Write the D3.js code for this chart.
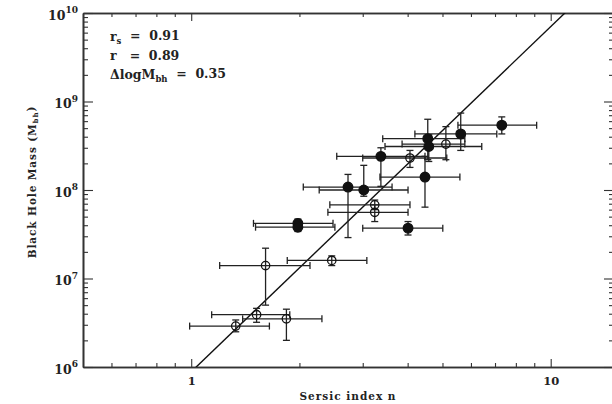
<!DOCTYPE html>
<html>
<head>
<meta charset="utf-8">
<script src="https://cdn.jsdelivr.net/npm/d3@7"></script>
<style>
  body { margin: 0; background: #fff; }
  svg { display: block; }
  .lbl { font-family: "DejaVu Serif", serif; font-weight: bold; fill: #222; }
</style>
</head>
<body>
<script>
// Sersic index with x error range
const sersicN = [7.31, 5.62, 4.55, 4.58, 3.37, 4.47, 2.73, 3.02, 4.01, 1.98, 1.98, 5.11, 4.06, 3.24, 3.24, 2.46, 1.61, 1.52, 1.33, 1.84];
const nLow    = [5.52, 4.19, 3.41, 3.46, 2.54, 3.35, 2.05, 2.27, 3.00, 1.49, 1.51, 3.86, 3.00, 2.43, 2.40, 1.85, 1.20, 1.14, 0.99, 1.39];
const nHigh   = [9.14, 7.08, 5.77, 6.43, 4.47, 5.59, 3.62, 4.01, 5.01, 2.48, 2.51, 5.77, 5.14, 4.06, 4.01, 3.08, 2.14, 1.88, 1.65, 2.31];
// black hole mass (Msun) with y error range
const massBH   = [5.4e8, 4.3e8, 3.8e8, 3.1e8, 2.4e8, 1.4e8, 1.08e8, 1.0e8, 3.7e7, 4.2e7, 3.8e7, 3.3e8, 2.3e8, 6.8e7, 5.6e7, 1.6e7, 1.4e7, 3.9e6, 2.9e6, 3.5e6];
const massLow  = [4.3e8, 2.8e8, 2.2e8, 2.1e8, 1.1e8, 6.4e7, 2.9e7, 8.5e7, 3.1e7, 3.8e7, 3.4e7, 2.2e8, 1.8e8, 6.0e7, 4.4e7, 1.4e7, 5.0e6, 3.2e6, 2.5e6, 2.0e6];
const massHigh = [6.7e8, 7.4e8, 6.3e8, 4.2e8, 3.0e8, 2.4e8, 1.5e8, 1.9e8, 4.4e7, 4.7e7, 4.2e7, 5.2e8, 2.8e8, 7.7e7, 6.8e7, 1.8e7, 2.2e7, 4.6e6, 3.4e6, 4.5e6];
const symbol = ["filled","filled","filled","filled","filled","filled","filled","filled","filled","filled","filled",
                "open","open","open","open","open","open","open","open","open"];
// best fit: log M = slope * log n + intercept
const fitSlope = 3.9, fitIntercept = 5.946;
const xMajor = [1, 10];
const xMinor = [0.6, 0.7, 0.8, 0.9, 2, 3, 4, 5, 6, 7, 8, 9];
const yMajor = [1e6, 1e7, 1e8, 1e9, 1e10];
const stats = [["r", "s", "  =  0.91"], ["r", "", "   =  0.89"], ["\u0394logM", "bh", "  =  0.35"]];

const width = 612, height = 404;
const margin = {left: 83, right: -2, top: 13, bottom: 37};
const pw = width - margin.left - margin.right, ph = height - margin.top - margin.bottom;

const x = d3.scaleLog().domain([0.5, 15]).range([0, pw]);
const y = d3.scaleLog().domain([1e6, 1e10]).range([ph, 0]);

const yMinor = [];
yMajor.slice(0, -1).forEach(m => { for (let k = 2; k <= 9; k++) yMinor.push(m * k); });

const data = sersicN.map((n, i) => ({n: n, lo: nLow[i], hi: nHigh[i], m: massBH[i], mlo: massLow[i], mhi: massHigh[i], sym: symbol[i]}));

const svg = d3.select("body").append("svg").attr("width", width).attr("height", height);
const g = svg.append("g").attr("transform", "translate(" + margin.left + "," + margin.top + ")");

svg.append("clipPath").attr("id", "clip").append("rect")
   .attr("x", margin.left).attr("y", margin.top).attr("width", pw).attr("height", ph);

// axes (ticks pointing inward)
function styleAxis(sel) {
  sel.select(".domain").attr("stroke", "#333").attr("stroke-width", 1.6);
  sel.selectAll(".tick line").attr("stroke", "#333").attr("stroke-width", 1.1);
}
g.append("g").attr("transform", "translate(0," + ph + ")")
 .call(d3.axisBottom(x).tickValues(xMinor).tickSize(-4).tickSizeOuter(0).tickFormat("")).call(styleAxis);
g.append("g").attr("transform", "translate(0," + ph + ")")
 .call(d3.axisBottom(x).tickValues(xMajor).tickSize(-8).tickSizeOuter(0).tickPadding(10).tickFormat(d3.format("d")))
 .call(styleAxis)
 .call(a => a.selectAll("text").attr("class", "lbl").attr("font-size", 11.5));
g.append("g")
 .call(d3.axisTop(x).tickValues(xMinor).tickSize(-4).tickSizeOuter(0).tickFormat("")).call(styleAxis);
g.append("g")
 .call(d3.axisTop(x).tickValues(xMajor).tickSize(-8).tickSizeOuter(0).tickFormat("")).call(styleAxis);

g.append("g")
 .call(d3.axisLeft(y).tickValues(yMinor).tickSize(-5).tickSizeOuter(0).tickFormat("")).call(styleAxis);
const yAx = g.append("g")
 .call(d3.axisLeft(y).tickValues(yMajor).tickSize(-10).tickSizeOuter(0).tickPadding(5).tickFormat(""))
 .call(styleAxis);
yAx.selectAll(".tick text").each(function(d) {
  const t = d3.select(this).attr("class", "lbl").attr("font-size", 12.5).attr("dy", "0.5em");
  t.append("tspan").text("10");
  t.append("tspan").attr("font-size", 9).attr("dy", "-0.7em").text(Math.round(Math.log10(d)));
});
g.append("g").attr("transform", "translate(" + pw + ",0)")
 .call(d3.axisRight(y).tickValues(yMinor).tickSize(-5).tickSizeOuter(0).tickFormat("")).call(styleAxis);
g.append("g").attr("transform", "translate(" + pw + ",0)")
 .call(d3.axisRight(y).tickValues(yMajor).tickSize(-10).tickSizeOuter(0).tickFormat("")).call(styleAxis);

// fit line
const plotArea = svg.append("g").attr("clip-path", "url(#clip)")
  .append("g").attr("transform", "translate(" + margin.left + "," + margin.top + ")");
const fitLine = x.domain().map(n => [n, Math.pow(10, fitSlope * Math.log10(n) + fitIntercept)]);
plotArea.append("path")
  .attr("d", d3.line().x(d => x(d[0])).y(d => y(d[1]))(fitLine))
  .attr("fill", "none").attr("stroke", "#111").attr("stroke-width", 1.4);

// error bars
const cap = 3.5;
const eb = plotArea.selectAll(".eb").data(data).enter().append("g")
  .attr("stroke", "#222").attr("stroke-width", 1.3).attr("fill", "none");
eb.append("line").attr("x1", d => x(d.lo)).attr("x2", d => x(d.hi)).attr("y1", d => y(d.m)).attr("y2", d => y(d.m));
eb.append("line").attr("x1", d => x(d.lo)).attr("x2", d => x(d.lo)).attr("y1", d => y(d.m) - cap).attr("y2", d => y(d.m) + cap);
eb.append("line").attr("x1", d => x(d.hi)).attr("x2", d => x(d.hi)).attr("y1", d => y(d.m) - cap).attr("y2", d => y(d.m) + cap);
eb.append("line").attr("x1", d => x(d.n)).attr("x2", d => x(d.n)).attr("y1", d => y(d.mlo)).attr("y2", d => y(d.mhi));
eb.append("line").attr("x1", d => x(d.n) - cap).attr("x2", d => x(d.n) + cap).attr("y1", d => y(d.mlo)).attr("y2", d => y(d.mlo));
eb.append("line").attr("x1", d => x(d.n) - cap).attr("x2", d => x(d.n) + cap).attr("y1", d => y(d.mhi)).attr("y2", d => y(d.mhi));

// points
plotArea.selectAll(".pt").data(data).enter().append("circle")
  .attr("cx", d => x(d.n)).attr("cy", d => y(d.m))
  .attr("r", d => d.sym === "filled" ? 4.8 : 4.2)
  .attr("fill", d => d.sym === "filled" ? "#111" : "none")
  .attr("stroke", "#111").attr("stroke-width", 1.3);

// stats text
stats.forEach((s, i) => {
  const t = svg.append("text").attr("class", "lbl").attr("font-size", 12.5)
    .attr("x", 110).attr("y", 41 + i * 19).attr("xml:space", "preserve");
  t.append("tspan").text(s[0]);
  if (s[1]) t.append("tspan").attr("font-size", 8.5).attr("dy", "0.35em").text(s[1]);
  t.append("tspan").attr("dy", s[1] ? "-0.35em" : 0).text(s[2]);
});

// axis labels
svg.append("text").attr("class", "lbl").attr("font-size", 10.5).attr("letter-spacing", 1)
   .attr("text-anchor", "middle").attr("x", margin.left + 265).attr("y", 400)
   .text("Sersic index n");
const yl = svg.append("text").attr("class", "lbl").attr("font-size", 10.5).attr("letter-spacing", 0.9)
   .attr("text-anchor", "middle").attr("transform", "translate(36,182) rotate(-90)");
yl.append("tspan").text("Black Hole Mass (M");
yl.append("tspan").attr("font-size", 7).attr("dy", "0.35em").text("bh");
yl.append("tspan").attr("dy", "-0.35em").text(")");
</script>
</body>
</html>
